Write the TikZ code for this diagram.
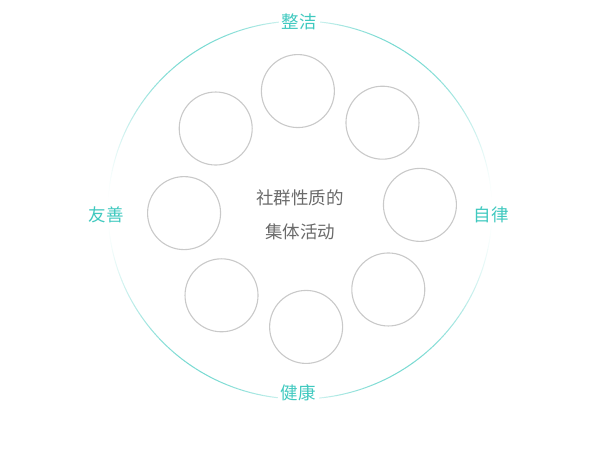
\documentclass[tikz,border=0pt]{standalone}
\usepackage{fontspec}
\usetikzlibrary{calc}
\newfontfamily\cjk{Noto Sans CJK SC}
\definecolor{tealtxt}{HTML}{3FC9BF}
\definecolor{tealarc}{HTML}{6AD6CD}
\definecolor{ringgray}{HTML}{C9C9C9}
\definecolor{midgray}{HTML}{6A6A6A}
\tikzset{
  smallc/.style={circle, draw=ringgray, line width=1.1pt, minimum size=73pt, inner sep=0pt},
  vlabel/.style={font=\cjk\fontsize{17.5}{20}\selectfont, text=tealtxt, fill=white, inner sep=3pt},
  midtext/.style={font=\cjk\fontsize{17.5}{34}\selectfont, text=midgray, align=center}
}
\begin{document}
\begin{tikzpicture}[x=1pt,y=1pt]
\useasboundingbox (0,0) rectangle (600,458);
% big faded ring
\foreach \a in {0,1,...,359}{
  \pgfmathsetmacro{\s}{abs(sin(\a+0.5))}
  \pgfmathsetmacro{\c}{max(abs(cos(\a+0.5)),0.0001)}
  \pgfmathsetmacro{\p}{min(100,90*\s*\s*pow(\c,0.8)/0.43)}
  \draw[line width=1pt, color=tealarc!\p!white]
    ({300+192*cos(\a)},{248+189*sin(\a)}) -- ({300+192*cos(\a+1.05)},{248+189*sin(\a+1.05)});
}
\coordinate (ring) at (302,249);
\foreach \k in {0,...,7}{
  \pgfmathsetmacro{\ang}{92-45*\k}
  \node[smallc] (c\k) at ($(ring)+(\ang:118)$) {};
}
\node[vlabel] (top) at (299,436) {整洁};
\node[vlabel] (left) at (106,243) {友善};
\node[vlabel] (right) at (491,243) {自律};
\node[vlabel] (bottom) at (298,65) {健康};
\node[midtext] (mid) at (300,243) {社群性质的\\集体活动};
\end{tikzpicture}
\end{document}
